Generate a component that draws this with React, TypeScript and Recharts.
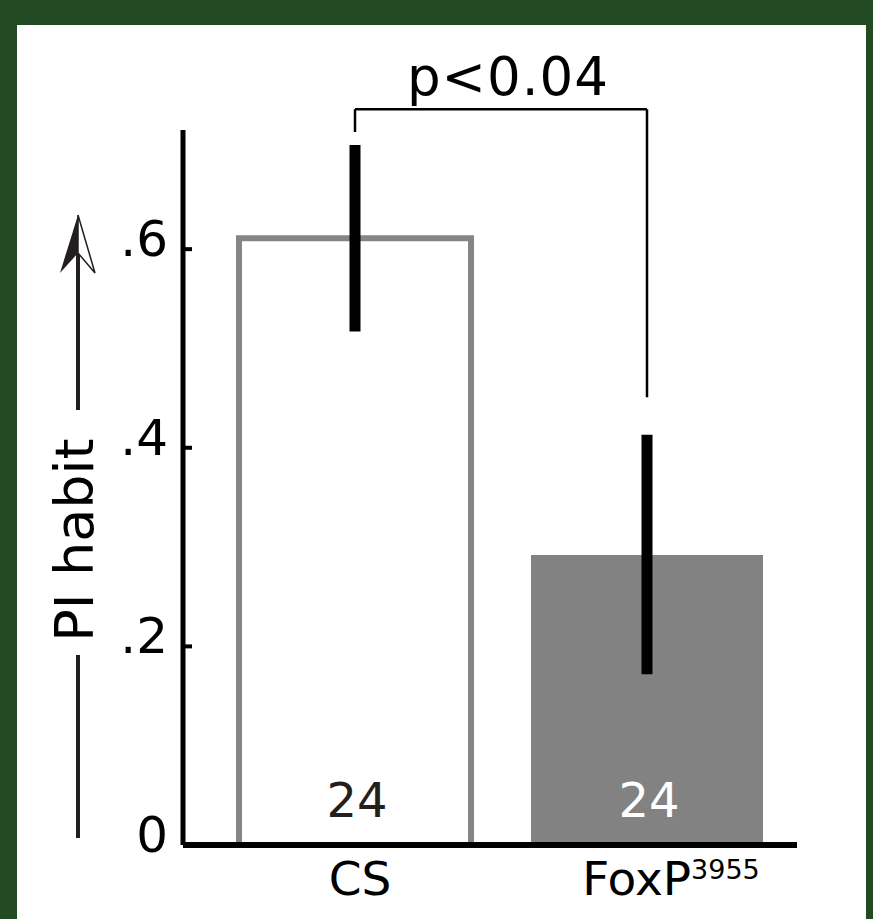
import { BarChart, Bar, XAxis, YAxis, ErrorBar, Cell, LabelList, ReferenceLine, Label } from 'recharts';

// groups on the x axis
const groups = ['CS', 'FoxP'];
const groupSuperscripts = ['', '3955'];
// mean PI habit and [lower, upper] error
const piMeans = [0.611, 0.292];
const piErrors = [
	[0.094, 0.094],
	[0.12, 0.121],
];
const sampleSizes = [24, 24];
const yTicks = [0, 0.2, 0.4, 0.6];

// significance bracket
const pText = 'p<0.04';
const bracketTop = 0.741;
const bracketLeftEnd = 0.718;
const bracketRightEnd = 0.451;

const FONT = 'DejaVu Sans';
const barFills = ['#ffffff', '#818281'];
const barStrokes = ['#858585', 'none'];
const countColors = ['#231f20', '#ffffff'];

const chartData = groups.map((g, i) => ({
	group: g,
	pi: piMeans[i],
	err: piErrors[i],
	n: sampleSizes[i],
}));

function formatTick(v: number): string {
	if (v === 0) return '0';
	return v.toFixed(1).replace(/^0/, '');
}

function YTick(props: any) {
	const { x, y, payload } = props;
	return (
		<g>
			<text x={x} y={y + 7} textAnchor="end" fontSize={50} fontFamily={FONT} fill="#000">
				{formatTick(payload.value)}
			</text>
			<line x1={x + 15} x2={x + 24} y1={y} y2={y} stroke="#000" strokeWidth={4} />
		</g>
	);
}

function XTick(props: any) {
	const { x, y, payload, index } = props;
	const sup = groupSuperscripts[index];
	return (
		<text
			x={x + (sup ? 24 : 5)}
			y={y + 50}
			textAnchor="middle"
			fontSize={47}
			fontFamily={FONT}
			fill="#000"
		>
			{payload.value}
			{sup ? (
				<tspan fontSize={27} dy={-16}>
					{sup}
				</tspan>
			) : null}
		</text>
	);
}

// rotated axis title with the long arrow pointing up
function YTitle(props: any) {
	const vb = props.viewBox;
	const ax = vb.x - 5;
	const cy = vb.y + 410;
	const tip = vb.y + 85;
	const dark = '#231f20';
	return (
		<g>
			<line x1={ax} x2={ax} y1={vb.y + vb.height - 7} y2={cy + 115} stroke={dark} strokeWidth={4} />
			<line x1={ax} x2={ax} y1={cy - 130} y2={tip + 38} stroke={dark} strokeWidth={4} />
			<polygon points={`${ax},${tip} ${ax - 18},${tip + 58} ${ax},${tip + 38}`} fill={dark} />
			<polygon
				points={`${ax},${tip} ${ax},${tip + 38} ${ax + 17},${tip + 58}`}
				fill="#fff"
				stroke={dark}
				strokeWidth={1.5}
			/>
			<text
				x={vb.x + 10}
				y={cy}
				transform={`rotate(-90, ${vb.x + 10}, ${cy})`}
				textAnchor="middle"
				fontSize={54}
				fontFamily={FONT}
				fill="#000"
			>
				PI habit
			</text>
		</g>
	);
}

export default function App() {
	return (
		<div style={{ position: 'absolute', left: 0, top: 0, width: 873, height: 919, background: '#234b23' }}>
			<div style={{ position: 'absolute', left: 17, top: 25, width: 849, height: 894, background: '#fff' }} />
			<div style={{ position: 'absolute', left: 0, top: 0 }}>
				<BarChart
					width={873}
					height={919}
					data={chartData}
					margin={{ top: 130, right: 76, bottom: 14, left: 83 }}
				>
					<XAxis
						dataKey="group"
						height={60}
						padding={{ left: 26, right: 4 }}
						axisLine={{ stroke: '#000', strokeWidth: 6 }}
						tickLine={false}
						tickSize={0}
						tickMargin={0}
						tick={<XTick />}
						interval={0}
					/>
					<YAxis
						width={100}
						domain={[0, 0.72]}
						ticks={yTicks}
						axisLine={{ stroke: '#000', strokeWidth: 5 }}
						tickLine={false}
						tickSize={0}
						tickMargin={15}
						tick={<YTick />}
					>
						<Label content={<YTitle />} />
					</YAxis>
					<Bar dataKey="pi" barSize={232} isAnimationActive={false}>
						{chartData.map((d, i) => (
							<Cell key={d.group} fill={barFills[i]} stroke={barStrokes[i]} strokeWidth={6} />
						))}
						<ErrorBar dataKey="err" width={0} stroke="#000" strokeWidth={11} />
						<LabelList
							dataKey="n"
							position="insideBottom"
							offset={28}
							content={(p: any) => (
								<text
									x={p.x + p.width / 2 + 2}
									y={p.y + p.height - 28}
									textAnchor="middle"
									fontSize={48}
									fontFamily={FONT}
									fill={countColors[p.index]}
								>
									{p.value}
								</text>
							)}
						/>
					</Bar>
					<ReferenceLine
						segment={[
							{ x: groups[0], y: bracketTop },
							{ x: groups[1], y: bracketTop },
						]}
						ifOverflow="visible"
						stroke="#000"
						strokeWidth={2.5}
					>
						<Label
							value={pText}
							position="top"
							offset={14}
							dx={7}
							fontSize={53}
							letterSpacing={1}
							fontFamily={FONT}
							fill="#000"
						/>
					</ReferenceLine>
					<ReferenceLine
						segment={[
							{ x: groups[0], y: bracketTop },
							{ x: groups[0], y: bracketLeftEnd },
						]}
						ifOverflow="visible"
						stroke="#000"
						strokeWidth={2.5}
					/>
					<ReferenceLine
						segment={[
							{ x: groups[1], y: bracketTop },
							{ x: groups[1], y: bracketRightEnd },
						]}
						ifOverflow="visible"
						stroke="#000"
						strokeWidth={2.5}
					/>
				</BarChart>
			</div>
		</div>
	);
}
